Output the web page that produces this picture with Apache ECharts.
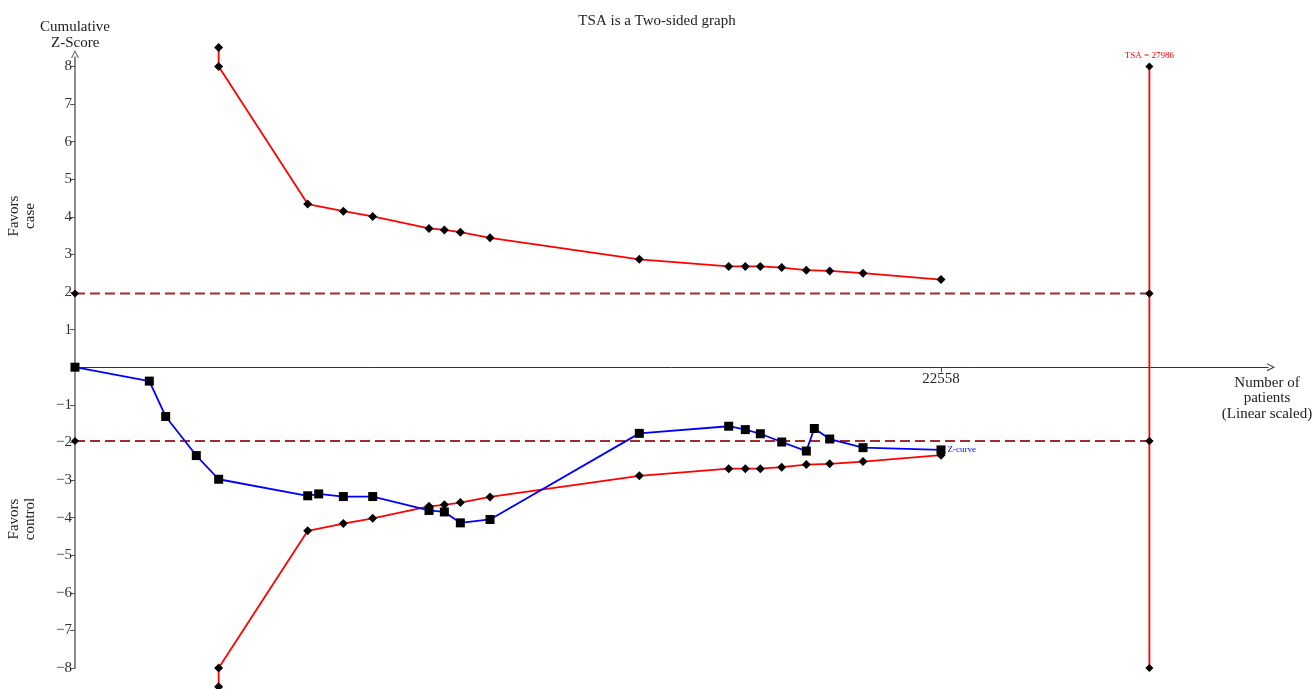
<!DOCTYPE html>
<html>
<head>
<meta charset="utf-8">
<script src="https://cdn.jsdelivr.net/npm/echarts@6/dist/echarts.min.js"></script>
<style>html,body{margin:0;padding:0;background:#fff}#c{width:1314px;height:689px}</style>
</head>
<body>
<div id="c"></div>
<script>
// ---- data ----
const boundX = [3742, 3742, 6062, 6990, 7755, 9222, 9621, 10038, 10811, 14700, 17028, 17461, 17852, 18409, 19050, 19659, 20527, 22558];
const upperBound = [8.5, 8, 4.34, 4.15, 4.01, 3.69, 3.65, 3.59, 3.44, 2.87, 2.68, 2.68, 2.68, 2.65, 2.58, 2.56, 2.50, 2.33];
const lowerBound = [-8.5, -8, -4.35, -4.16, -4.02, -3.70, -3.66, -3.60, -3.45, -2.89, -2.70, -2.70, -2.70, -2.66, -2.59, -2.57, -2.51, -2.34];
const zX = [0, 1936, 2362, 3160, 3742, 6062, 6348, 6990, 7755, 9222, 9621, 10038, 10811, 14700, 17028, 17461, 17852, 18409, 19050, 19258, 19659, 20527, 22558];
const zY = [0, -0.37, -1.31, -2.35, -2.98, -3.42, -3.37, -3.44, -3.44, -3.81, -3.85, -4.14, -4.05, -1.76, -1.57, -1.66, -1.77, -1.99, -2.23, -1.63, -1.91, -2.14, -2.20];
const convX = [0, 27986];
const convY = 1.96;
const tsaValue = 27986;
const tsaY = [8, 1.96, -1.96, -8];
const xTicks = [22558];
const yTicks = [-8, -7, -6, -5, -4, -3, -2, -1, 1, 2, 3, 4, 5, 6, 7, 8];

const FONT = '"Liberation Serif", "DejaVu Serif", serif';
const pair = (xs, ys) => xs.map((x, i) => [x, ys[i]]);
const Y_MIN = -8, Y_MAX = 8.25;
const GRID_TOP = 57, GRID_BOTTOM = 21, H = 689;
// place the x axis at y = 0 (offset from grid bottom edge, in pixels)
const plotH = H - GRID_TOP - GRID_BOTTOM;
const xAxisOffset = -plotH * (0 - Y_MIN) / (Y_MAX - Y_MIN);
const CHEVRON = 'path://M0,10 L5,0 L10,10 L8.6,10 L5,2.8 L1.4,10 Z';

const chart = echarts.init(document.getElementById('c'));
chart.setOption({
  animation: false,
  backgroundColor: '#fff',
  textStyle: { fontFamily: FONT },
  title: {
    text: 'TSA is a Two-sided graph', left: 'center', top: 9,
    textStyle: { fontFamily: FONT, fontSize: 15, fontWeight: 'normal', color: '#222' }
  },
  grid: { left: 75, right: 46, top: GRID_TOP, bottom: GRID_BOTTOM, containLabel: false },
  xAxis: {
    type: 'value', min: 0, max: 31076, position: 'bottom', offset: xAxisOffset,
    axisLine: { onZero: false, show: true, symbol: ['none', CHEVRON], symbolSize: [11, 8], symbolOffset: [0, 3], lineStyle: { color: '#333', width: 1 } },
    axisTick: { show: true, inside: false, length: 5, customValues: xTicks, lineStyle: { color: '#444' } },
    axisLabel: { show: true, customValues: xTicks, fontFamily: FONT, fontSize: 15, color: '#222', margin: 4, formatter: v => String(v) },
    splitLine: { show: false }
  },
  yAxis: {
    type: 'value', min: Y_MIN, max: Y_MAX,
    axisLine: { show: true, symbol: ['none', CHEVRON], symbolSize: [11, 8], symbolOffset: [0, 3], lineStyle: { color: '#666', width: 1.5 } },
    axisTick: { show: true, length: 5, customValues: yTicks, lineStyle: { color: '#555' } },
    axisLabel: { customValues: yTicks, fontFamily: FONT, fontSize: 15, color: '#333', margin: 3,
      formatter: v => String(v).replace('-', '\u2212') },
    splitLine: { show: false }
  },
  graphic: [
    { type: 'text', left: 40, top: 20, style: { text: 'Cumulative', font: '15px ' + FONT, fill: '#222' } },
    { type: 'text', left: 51, top: 36, style: { text: 'Z-Score', font: '15px ' + FONT, fill: '#222' } },
    { type: 'text', x: 22, y: 216, rotation: Math.PI / 2, style: { text: 'Favors\ncase', font: '15px ' + FONT, fill: '#222', align: 'center', verticalAlign: 'middle', lineHeight: 16 } },
    { type: 'text', x: 22, y: 519, rotation: Math.PI / 2, style: { text: 'Favors\ncontrol', font: '15px ' + FONT, fill: '#222', align: 'center', verticalAlign: 'middle', lineHeight: 16 } },
    { type: 'text', x: 1267, y: 375, style: { text: 'Number of\npatients\n(Linear scaled)', font: '15px ' + FONT, fill: '#222', align: 'center', lineHeight: 15.5 } }
  ],
  series: [
    {
      type: 'line', name: 'conv-upper', data: pair(convX, convX.map(() => convY)),
      symbol: 'diamond', symbolSize: 8, itemStyle: { color: '#000' },
      lineStyle: { color: '#a52a2a', width: 2, type: [10, 5] }, clip: false, z: 2
    },
    {
      type: 'line', name: 'conv-lower', data: pair(convX, convX.map(() => -convY)),
      symbol: 'diamond', symbolSize: 8, itemStyle: { color: '#000' },
      lineStyle: { color: '#a52a2a', width: 2, type: [10, 5] }, clip: false, z: 2
    },
    {
      type: 'line', name: 'TSA', data: tsaY.map(y => [tsaValue, y]),
      symbol: 'diamond', symbolSize: 8, itemStyle: { color: '#000' },
      lineStyle: { color: '#ff0000', width: 1.8 }, clip: false, z: 3,
      label: { show: true, formatter: p => p.dataIndex === 0 ? 'TSA = ' + tsaValue : '', position: 'top', distance: 2, color: '#ff0000', fontSize: 9, fontFamily: FONT }
    },
    {
      type: 'line', name: 'upper', data: pair(boundX, upperBound),
      symbol: 'diamond', symbolSize: 9, itemStyle: { color: '#000' },
      lineStyle: { color: '#ff0000', width: 1.8 }, clip: false, z: 3
    },
    {
      type: 'line', name: 'lower', data: pair(boundX, lowerBound),
      symbol: 'diamond', symbolSize: 9, itemStyle: { color: '#000' },
      lineStyle: { color: '#ff0000', width: 1.8 }, clip: false, z: 3
    },
    {
      type: 'line', name: 'Z-curve', data: pair(zX, zY),
      symbol: 'rect', symbolSize: 9, itemStyle: { color: '#000' },
      lineStyle: { color: '#0000ff', width: 1.8 }, clip: false, z: 4,
      label: { show: true, formatter: p => p.dataIndex === zX.length - 1 ? 'Z-curve' : '', position: 'right', distance: 2, color: '#0000ff', fontSize: 9, fontFamily: FONT }
    }
  ]
});
</script>
</body>
</html>
